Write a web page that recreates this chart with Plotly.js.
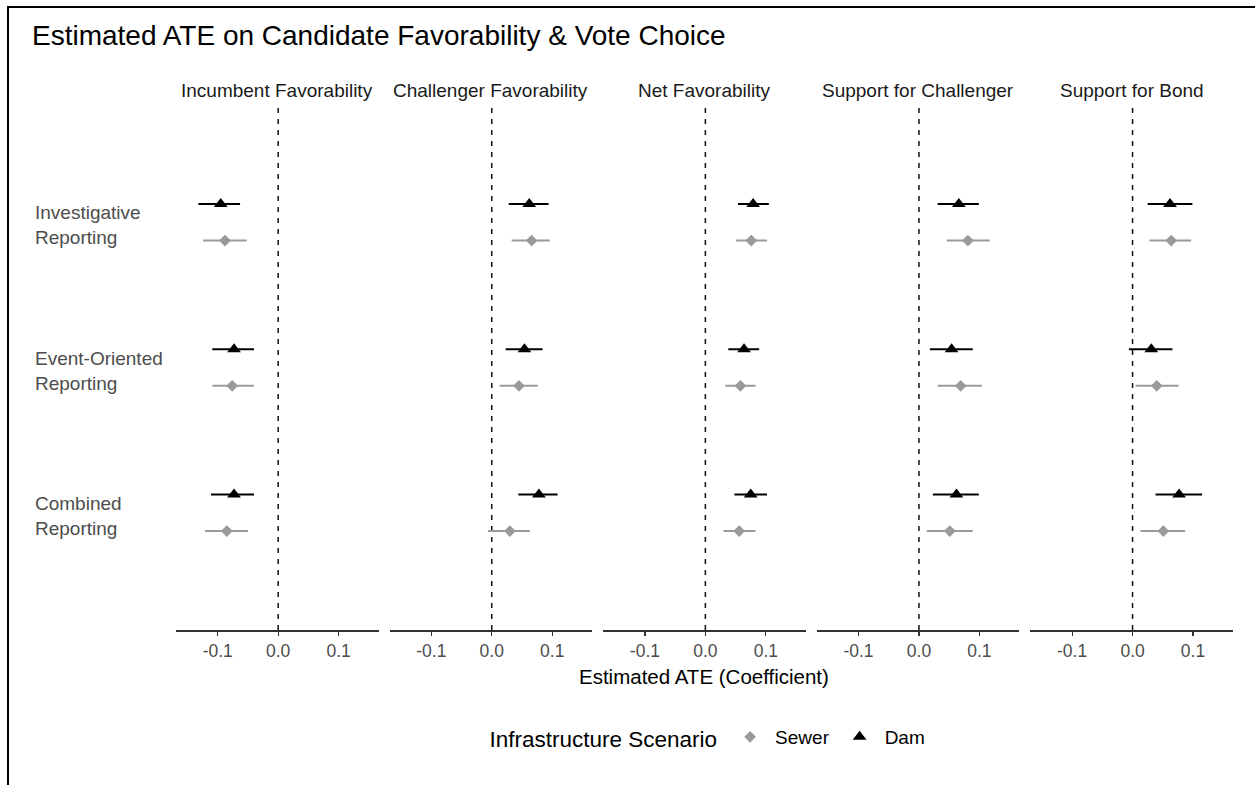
<!DOCTYPE html>
<html><head><meta charset="utf-8">
<script src="https://cdn.plot.ly/plotly-3.0.1.min.js"></script>
<style>html,body{margin:0;padding:0;background:#fff;}#chart{width:1255px;height:785px;}</style>
</head><body><div id="chart"></div>
<script>
// ---- data ----
const categories = ["Investigative<br>Reporting", "Event-Oriented<br>Reporting", "Combined<br>Reporting"];
const outcomes = ["Incumbent Favorability", "Challenger Favorability", "Net Favorability", "Support for Challenger", "Support for Bond"];
const scenarios = ["Sewer", "Dam"];
const tickValues = [-0.1, 0, 0.1];
const tickLabels = ["-0.1", "0.0", "0.1"];

// Dam estimates / CI per outcome (each: Investigative, Event-Oriented, Combined)
const damEst = [[-0.095, -0.073, -0.073], [0.062, 0.054, 0.078], [0.079, 0.064, 0.075], [0.066, 0.054, 0.062], [0.062, 0.031, 0.077]];
const damLo  = [[-0.132, -0.109, -0.111], [0.028, 0.023, 0.044], [0.054, 0.038, 0.048], [0.031, 0.018, 0.023], [0.025, -0.006, 0.038]];
const damHi  = [[-0.063, -0.040, -0.040], [0.094, 0.084, 0.109], [0.105, 0.089, 0.102], [0.099, 0.089, 0.099], [0.099, 0.066, 0.115]];

// Sewer estimates / CI per outcome
const sewerEst = [[-0.088, -0.076, -0.085], [0.066, 0.045, 0.030], [0.076, 0.058, 0.056], [0.081, 0.069, 0.051], [0.064, 0.040, 0.051]];
const sewerLo  = [[-0.124, -0.109, -0.121], [0.033, 0.013, -0.006], [0.051, 0.033, 0.030], [0.046, 0.031, 0.013], [0.028, 0.005, 0.013]];
const sewerHi  = [[-0.052, -0.040, -0.050], [0.096, 0.076, 0.063], [0.102, 0.083, 0.083], [0.117, 0.104, 0.089], [0.097, 0.076, 0.087]];

// ---- styling ----
const FONT = "Liberation Sans, Arial, sans-serif";
const W = 1255, H = 785;
const M = {l: 176, r: 22, t: 105, b: 155};
const plotW = W - M.l - M.r, plotH = H - M.t - M.b;
const px2xp = px => (px - M.l) / plotW;
const py2yp = py => (H - M.b - py) / plotH;
const dodge = 0.126;
const nCat = categories.length;
const catPos = categories.map((c, i) => nCat - i);

const style = {
  Sewer: {color: "#9a9a9a", symbol: "diamond", size: 9, lw: 2},
  Dam:   {color: "#000000", symbol: "triangle-up", size: 12, lw: 2}
};

const traces = [];
outcomes.forEach((o, k) => {
  const ax = k === 0 ? "" : String(k + 1);
  const sets = {
    Sewer: {est: sewerEst[k], lo: sewerLo[k], hi: sewerHi[k], off: -dodge},
    Dam:   {est: damEst[k], lo: damLo[k], hi: damHi[k], off: dodge}
  };
  scenarios.forEach(s => {
    const d = sets[s], st = style[s];
    traces.push({
      type: "scatter", mode: "markers",
      name: s, legendgroup: s, showlegend: k === 0,
      x: d.est,
      y: catPos.map(p => p + d.off),
      xaxis: "x" + ax, yaxis: "y",
      marker: {symbol: st.symbol, size: st.size, color: st.color, line: {width: 0}},
      error_x: {type: "data", symmetric: false,
        array: d.hi.map((h, i) => h - d.est[i]),
        arrayminus: d.lo.map((l, i) => d.est[i] - l),
        width: 0, thickness: st.lw, color: st.color},
      hoverinfo: "x+name"
    });
  });
});

const layout = {
  width: W, height: H,
  margin: M,
  paper_bgcolor: "#ffffff", plot_bgcolor: "#ffffff",
  font: {family: FONT, color: "#000"},
  title: {text: "Estimated ATE on Candidate Favorability &amp; Vote Choice",
    font: {family: FONT, size: 28, color: "#000"},
    xref: "container", x: 32 / W, xanchor: "left",
    yref: "container", y: 1 - 35 / H, yanchor: "middle"},
  showlegend: true,
  legend: {orientation: "h", x: px2xp(709), xanchor: "center", y: py2yp(738), yanchor: "middle",
    font: {family: FONT, size: 19, color: "#000"},
    itemwidth: 40,
    title: {text: "Infrastructure Scenario", font: {family: FONT, size: 22.5, color: "#000"}, side: "left"},
    bgcolor: "rgba(0,0,0,0)"},
  yaxis: {range: [0.193, 3.807], showticklabels: false, showgrid: false, zeroline: false,
    showline: false, ticks: "", anchor: "x", fixedrange: true},
  shapes: [],
  annotations: []
};

const step = 213.6 / plotW, pw = 202.5 / plotW;
outcomes.forEach((o, k) => {
  const key = k === 0 ? "xaxis" : "xaxis" + (k + 1);
  const ref = k === 0 ? "x" : "x" + (k + 1);
  layout[key] = {
    domain: [k * step, k * step + pw], anchor: "y",
    range: [-0.169, 0.166],
    tickvals: tickValues, ticktext: tickLabels,
    tickfont: {family: FONT, size: 17.5, color: "#4d4d4d"},
    ticks: "outside", ticklen: 4, tickwidth: 1.2, tickcolor: "#333",
    showline: true, linecolor: "#333", linewidth: 1.5,
    showgrid: false, zeroline: false, fixedrange: true
  };
  layout.shapes.push({type: "line", xref: ref, yref: "paper", x0: 0, x1: 0, y0: 0, y1: 1,
    line: {color: "#111", width: 1.5, dash: "5px,6px"}, layer: "below"});
  layout.annotations.push({text: o, xref: ref + " domain", x: 0.5, xanchor: "center",
    yref: "paper", y: py2yp(90), yanchor: "middle", showarrow: false,
    font: {family: FONT, size: 19, color: "#1a1a1a"}});
});

// x-axis title under middle panel
layout.annotations.push({text: "Estimated ATE (Coefficient)", xref: "x3 domain", x: 0.5, xanchor: "center",
  yref: "paper", y: py2yp(676), yanchor: "middle", showarrow: false,
  font: {family: FONT, size: 20.5, color: "#000"}});

// left-aligned category labels
categories.forEach((c, i) => {
  layout.annotations.push({text: c, xref: "paper", x: px2xp(33), xanchor: "left", align: "left",
    yref: "y", y: catPos[i], yanchor: "middle", yshift: -3, showarrow: false,
    font: {family: FONT, size: 19, color: "#4d4d4d"}});
});

// outer frame (partially cropped in the reference)
layout.shapes.push({type: "rect", xref: "paper", yref: "paper",
  x0: px2xp(8), x1: px2xp(1290), y0: py2yp(820), y1: py2yp(7),
  line: {color: "#000", width: 2}, fillcolor: "rgba(0,0,0,0)"});

Plotly.newPlot("chart", traces, layout, {displayModeBar: false, staticPlot: true});
</script>
</body></html>
